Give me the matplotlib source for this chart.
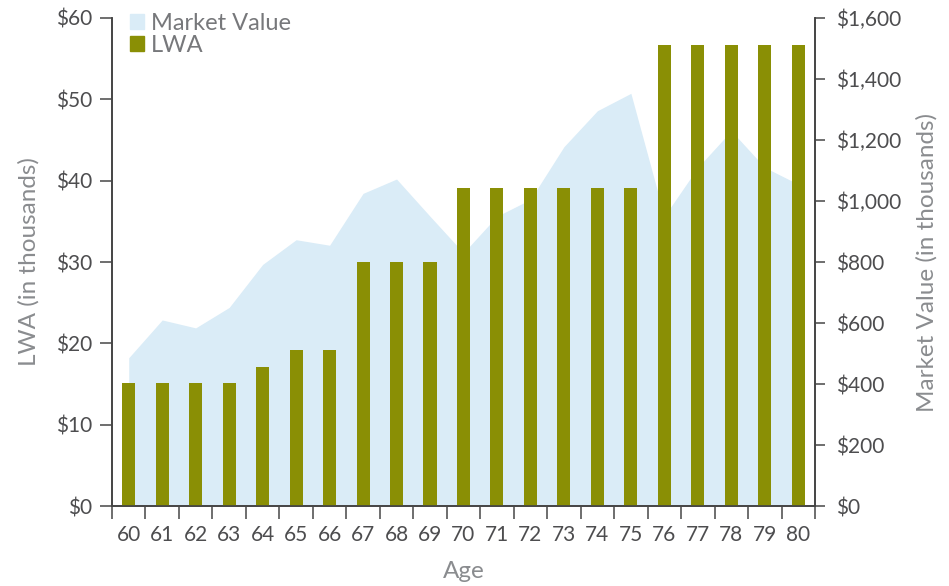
import matplotlib.pyplot as plt
from matplotlib.patches import Patch
from matplotlib.ticker import FuncFormatter

ages = list(range(60, 81))
lwa = [15.1, 15.1, 15.1, 15.1, 17.1, 19.2, 19.2, 30.0, 30.0, 30.0,
       39.1, 39.1, 39.1, 39.1, 39.1, 39.1, 56.7, 56.7, 56.7, 56.7, 56.7]
market_value = [486, 610, 584, 651, 792, 873, 855, 1025, 1072, 950,
                830, 950, 1005, 1178, 1296, 1353, 950, 1110, 1230, 1110, 1055]

BAR_COLOR = '#8a8f05'
AREA_COLOR = '#daecf7'
TEXT_GRAY = '#8a8c8f'
TICK_TEXT = '#4d4d4f'

plt.rcParams['font.family'] = ['Lato', 'DejaVu Sans']

fig = plt.figure(figsize=(9.49, 5.86), dpi=100)
ax1 = fig.add_axes([0.118, 0.1365, 0.7408, 0.8328])
ax2 = ax1.twinx()

x = list(range(len(ages)))
ax2.fill_between(x, market_value, 0, color=AREA_COLOR, linewidth=0)
ax1.bar(x, lwa, width=0.39, color=BAR_COLOR)

# bars above the area
ax1.set_zorder(ax2.get_zorder() + 1)
ax1.patch.set_visible(False)

ax1.set_xlim(-0.5, len(ages) - 0.5)
ax1.set_ylim(0, 60)
ax2.set_ylim(0, 1600)
ax1.set_yticks(range(0, 61, 10))
ax2.set_yticks(range(0, 1601, 200))
ax1.yaxis.set_major_formatter(FuncFormatter(lambda v, p: f'${v:,.0f}'))
ax2.yaxis.set_major_formatter(FuncFormatter(lambda v, p: f'${v:,.0f}'))

ax1.set_xticks(x)
ax1.set_xticklabels([str(a) for a in ages])
ax1.set_xticks([i - 0.5 for i in range(len(ages) + 1)], minor=True)
ax1.tick_params(axis='x', which='major', length=0, pad=14,
                labelsize=15, labelcolor=TICK_TEXT)
ax1.tick_params(axis='x', which='minor', length=9, width=1.2, color='#555555')
ax1.tick_params(axis='y', length=9, width=1.2, color='#555555', pad=5,
                labelsize=15, labelcolor=TICK_TEXT)
ax2.tick_params(axis='y', length=7, width=1.2, color='#555555', pad=8,
                labelsize=15, labelcolor=TICK_TEXT)

for ax in (ax1, ax2):
    ax.spines['top'].set_visible(False)
    for s in ('left', 'right', 'bottom'):
        ax.spines[s].set_color('#444444')
        ax.spines[s].set_linewidth(1.2)

ax1.set_xlabel('Age', fontsize=17.5, color=TEXT_GRAY, labelpad=11)
ax1.set_ylabel('LWA (in thousands)', fontsize=17.5, color=TEXT_GRAY, labelpad=12)
ax2.set_ylabel('Market Value (in thousands)', fontsize=17.5, color=TEXT_GRAY,
               labelpad=11)

handles = [Patch(color=AREA_COLOR, label='Market Value'),
           Patch(color=BAR_COLOR, label='LWA')]
leg = ax1.legend(handles=handles, loc='upper left', bbox_to_anchor=(0.012, 1.03),
                 frameon=False, fontsize=17, handlelength=0.6, handleheight=0.6,
                 handletextpad=0.3, labelspacing=0.05, borderaxespad=0)
for t in leg.get_texts():
    t.set_color('#77787b')

fig.savefig('out.png', dpi=100)
